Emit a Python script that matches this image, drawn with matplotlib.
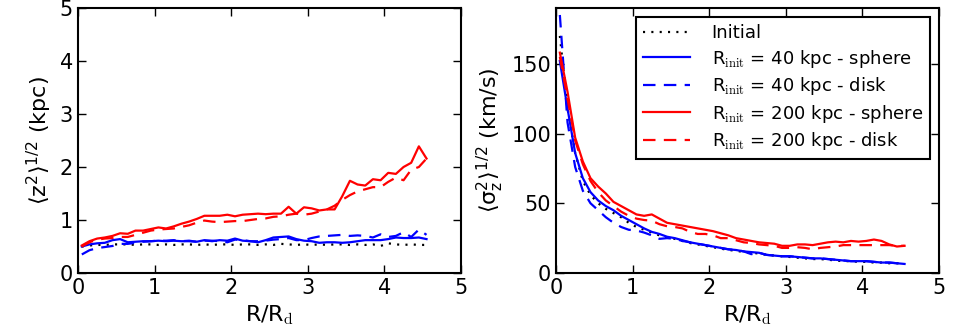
import numpy as np
import matplotlib
matplotlib.use("Agg")
import matplotlib.pyplot as plt

plt.rcParams['font.family'] = ['DejaVu Sans']
plt.rcParams['font.size'] = 15
plt.rcParams['mathtext.fontset'] = 'cm'
plt.rcParams['mathtext.default'] = 'regular'
plt.rcParams['lines.scale_dashes'] = False

# radius in units of R_d
r = [0.05, 0.15, 0.25, 0.35, 0.45, 0.55, 0.65, 0.75, 0.85, 0.95,
     1.05, 1.15, 1.25, 1.35, 1.45, 1.55, 1.65, 1.75, 1.85, 1.95,
     2.05, 2.15, 2.25, 2.35, 2.45, 2.55, 2.65, 2.75, 2.85, 2.95,
     3.05, 3.15, 3.25, 3.35, 3.45, 3.55, 3.65, 3.75, 3.85, 3.95,
     4.05, 4.15, 4.25, 4.35, 4.45, 4.55]

# <z^2>^1/2 (kpc)
z_init = [0.50, 0.52, 0.53, 0.53, 0.54, 0.54, 0.54, 0.53, 0.54, 0.54,
          0.53, 0.54, 0.53, 0.54, 0.54, 0.53, 0.54, 0.53, 0.54, 0.54,
          0.53, 0.54, 0.54, 0.53, 0.54, 0.53, 0.55, 0.54, 0.53, 0.54,
          0.53, 0.54, 0.53, 0.54, 0.54, 0.53, 0.54, 0.53, 0.54, 0.51,
          0.56, 0.54, 0.53, 0.54, 0.53, 0.53]
z_s40 = [0.50, 0.54, 0.56, 0.57, 0.62, 0.64, 0.58, 0.59, 0.60, 0.60,
         0.61, 0.60, 0.61, 0.60, 0.60, 0.59, 0.62, 0.60, 0.62, 0.61,
         0.65, 0.61, 0.60, 0.58, 0.62, 0.67, 0.68, 0.69, 0.64, 0.61,
         0.60, 0.57, 0.58, 0.58, 0.57, 0.58, 0.60, 0.62, 0.62, 0.62,
         0.64, 0.67, 0.66, 0.66, 0.67, 0.64]
z_d40 = [0.35, 0.43, 0.47, 0.49, 0.51, 0.55, 0.55, 0.57, 0.59, 0.60,
         0.61, 0.61, 0.62, 0.60, 0.61, 0.59, 0.61, 0.61, 0.60, 0.58,
         0.63, 0.62, 0.60, 0.60, 0.61, 0.63, 0.64, 0.66, 0.62, 0.62,
         0.66, 0.69, 0.70, 0.71, 0.72, 0.70, 0.71, 0.70, 0.67, 0.73,
         0.68, 0.70, 0.77, 0.68, 0.82, 0.72]
z_s200 = [0.52, 0.60, 0.65, 0.67, 0.70, 0.75, 0.74, 0.80, 0.80, 0.83,
          0.86, 0.84, 0.88, 0.93, 0.97, 1.02, 1.08, 1.08, 1.08, 1.10,
          1.07, 1.10, 1.11, 1.12, 1.11, 1.12, 1.12, 1.25, 1.12, 1.24,
          1.22, 1.18, 1.20, 1.20, 1.45, 1.74, 1.67, 1.65, 1.77, 1.75,
          1.89, 1.87, 2.00, 2.08, 2.39, 2.16]
z_d200 = [0.50, 0.58, 0.63, 0.65, 0.66, 0.68, 0.68, 0.72, 0.76, 0.80,
          0.82, 0.83, 0.84, 0.87, 0.90, 0.95, 0.99, 0.97, 0.96, 0.97,
          0.98, 0.98, 1.00, 1.02, 1.03, 1.06, 1.07, 1.10, 1.12, 1.10,
          1.12, 1.16, 1.20, 1.27, 1.38, 1.47, 1.54, 1.58, 1.62, 1.62,
          1.72, 1.80, 1.75, 1.95, 2.00, 2.16]

# <sigma_z^2>^1/2 (km/s)
s_init = [170, 118, 86, 66, 56, 50, 46, 43, 40, 36,
          33, 31, 29, 27, 25.5, 24.5, 23, 21.5, 20.5, 19.5,
          18.5, 17.5, 16.5, 16, 15, 14.5, 14, 13, 12.5, 12,
          11.5, 11, 10.5, 10, 10, 9.5, 9, 8.5, 8.5, 8,
          8, 7.5, 7.5, 7, 7, 6.5]
s_s40 = [152, 118, 86, 68, 58, 52, 48, 45, 41, 38,
         35, 32, 29.5, 28, 26, 25, 23.5, 22, 21, 20,
         19, 18, 17, 16.5, 15.5, 15, 14.5, 13, 12.5, 12,
         12, 11.5, 11, 10.5, 10.5, 10, 9.5, 9, 8.5, 8.5,
         8.5, 8, 7.5, 7.5, 7, 6.5]
s_d40 = [185, 108, 76, 59, 50, 45, 40, 36, 33, 31,
         30.5, 29, 27, 24.5, 25, 24.5, 23, 22, 21, 20,
         19, 18, 17, 16.5, 15.5, 13.5, 14.5, 13, 12.5, 12,
         12, 11.5, 11, 10.5, 10.5, 10, 9.5, 9, 8.5, 8.5,
         8.5, 8, 7.5, 7.5, 7, 6.5]
s_s200 = [158, 130, 97, 80, 68, 62, 57, 51, 48, 45,
          42, 41, 42, 39, 36, 35, 34, 33, 32, 31,
          30, 28.5, 27, 25, 24, 23, 22, 21.5, 21, 19.5,
          19.5, 20.5, 20.5, 20, 21, 22, 22.5, 22, 23, 22.5,
          23, 24, 23, 20.5, 19, 19.5]
s_d200 = [155, 125, 95, 78, 66, 58, 52, 48, 44, 41,
          39, 38, 37.5, 35, 33.5, 33, 32, 29.5, 28, 28,
          27, 25, 25, 23.5, 22, 21.5, 20.5, 20, 19.5, 18,
          18, 18.5, 18, 17, 18, 18.5, 19, 20, 20, 20,
          20, 20, 20, 20, 19.5, 19.5]

labels = ['Initial',
          r'R$_{\rm init}$ = 40 kpc - sphere',
          r'R$_{\rm init}$ = 40 kpc - disk',
          r'R$_{\rm init}$ = 200 kpc - sphere',
          r'R$_{\rm init}$ = 200 kpc - disk']
colors = ['k', 'b', 'b', 'r', 'r']
dashes = [(1.5, 4.5), (), (9, 6), (), (9, 6)]

fig = plt.figure(figsize=(9.58, 3.34), dpi=100)
ax1 = fig.add_axes([0.0814, 0.1826, 0.3998, 0.7934])
ax2 = fig.add_axes([0.5804, 0.1826, 0.3998, 0.7934])

for ax, series in [(ax1, [z_init, z_s40, z_d40, z_s200, z_d200]),
                   (ax2, [s_init, s_s40, s_d40, s_s200, s_d200])]:
    for y, c, d, lab in zip(series, colors, dashes, labels):
        line, = ax.plot(r, y, color=c, lw=1.6, label=lab)
        if d:
            line.set_dashes(d)
    ax.set_xlim(0, 5)
    ax.set_xticks([0, 1, 2, 3, 4, 5])
    ax.tick_params(direction='in', top=True, right=True, length=6, width=1,
                   labelsize=15)
    for sp in ax.spines.values():
        sp.set_linewidth(1.5)
    ax.set_xlabel(r'R/R$_{\rm d}$', fontsize=16)

ax1.set_ylim(0, 5)
ax1.set_ylabel(r'$\langle$z$^2\rangle^{1/2}$ (kpc)', fontsize=16)
ax2.set_ylim(0, 190)
ax2.set_yticks([0, 50, 100, 150])
ax2.set_ylabel(r'$\langle\sigma_z^2\rangle^{1/2}$ (km/s)', fontsize=16)

leg = ax2.legend(loc='upper right', handlelength=2.6, handletextpad=1.2,
                 fancybox=False, framealpha=1, borderaxespad=0.5,
                 labelspacing=0.3, fontsize=13)
leg.get_frame().set_edgecolor('k')
leg.get_frame().set_linewidth(1.5)

fig.savefig('out.png', dpi=100)
